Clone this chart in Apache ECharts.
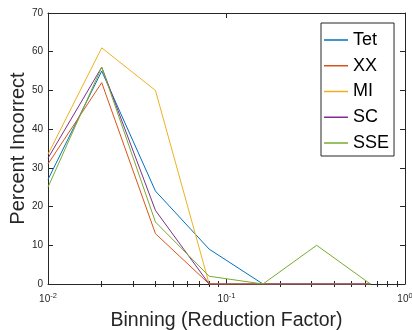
<!DOCTYPE html>
<html>
<head>
<meta charset="utf-8">
<script src="https://cdn.jsdelivr.net/npm/echarts@6/dist/echarts.min.js"></script>
<style>html,body{margin:0;padding:0;background:#fff;}#c{width:412px;height:330px;}</style>
</head>
<body>
<div id="c"></div>
<script>
const binning = [0.01, 0.02, 0.04, 0.08, 0.16, 0.32, 0.64];
const seriesNames = ['Tet', 'XX', 'MI', 'SC', 'SSE'];
const tet = [27, 55, 24, 9, 0, 0, 0];
const xx  = [31, 52, 13, 0, 0, 0, 0];
const mi  = [33.5, 61, 50, 0, 0, 0, 0];
const sc  = [32.5, 56, 19, 0, 0, 0, 0];
const sse = [25, 56, 16, 2, 0, 10, 0];
const yTicks = [0, 10, 20, 30, 40, 50, 60, 70];
const xMajorTicks = [0.01, 0.1, 1];
const xMinorTicks = [0.02,0.03,0.04,0.05,0.06,0.07,0.08,0.09,0.2,0.3,0.4,0.5,0.6,0.7,0.8,0.9];

const colors = ['#0072BD', '#D95319', '#EDB120', '#7E2F8E', '#77AC30'];
const allValues = [tet, xx, mi, sc, sse];
const axisColor = '#262626';
const font = 'Liberation Sans, Arial, Helvetica, sans-serif';
const minorLog = xMinorTicks.map(v => Math.log10(v));

const chart = echarts.init(document.getElementById('c'), null, {renderer: 'canvas'});

function minorAxis(pos) {
  return {
    type: 'value', position: pos, min: -2, max: 0,
    axisLine: {show: false},
    axisLabel: {show: false},
    splitLine: {show: false},
    axisTick: {show: true, inside: true, length: 3, customValues: minorLog, lineStyle: {color: axisColor, width: 1}}
  };
}

const option = {
  animation: false,
  backgroundColor: '#ffffff',
  color: colors,
  grid: {left: 48, right: 7, top: 13, bottom: 46, containLabel: false, outerBoundsMode: 'none'},
  legend: {
    orient: 'vertical', left: 321, top: 23,
    icon: 'rect', itemWidth: 24, itemHeight: 1.5, itemGap: 5.75,
    padding: [7, 5, 3, 3],
    borderColor: axisColor, borderWidth: 1, backgroundColor: '#ffffff',
    textStyle: {fontFamily: font, fontSize: 18, color: '#000000', lineHeight: 20},
    data: seriesNames
  },
  xAxis: [
    {
      type: 'log', logBase: 10, min: 0.01, max: 1, position: 'bottom',
      name: 'Binning (Reduction Factor)', nameLocation: 'middle', nameGap: 27,
      nameMoveOverlap: false,
      nameTextStyle: {fontFamily: font, fontSize: 19.5, color: axisColor},
      axisLine: {show: true, onZero: false, lineStyle: {color: axisColor, width: 1}},
      axisTick: {show: true, inside: true, length: 5, lineStyle: {color: axisColor}},
      splitLine: {show: false},
      axisLabel: {
        show: true, margin: 8, color: axisColor, fontFamily: font,
        formatter: function (v) {
          const e = Math.round(Math.log10(v));
          return '{b|10}{s|' + e + '}';
        },
        rich: {
          b: {fontSize: 10, fontFamily: font, color: axisColor},
          s: {fontSize: 7.5, fontFamily: font, color: axisColor, padding: [0, 0, 7, 0]}
        }
      }
    },
    minorAxis('bottom'),
    {
      type: 'log', logBase: 10, min: 0.01, max: 1, position: 'top',
      axisLine: {show: true, onZero: false, lineStyle: {color: axisColor, width: 1}},
      axisTick: {show: true, inside: true, length: 5, lineStyle: {color: axisColor}},
      axisLabel: {show: false}, splitLine: {show: false}
    },
    minorAxis('top')
  ],
  yAxis: [
    {
      type: 'value', min: 0, max: 70, interval: 10, position: 'left',
      name: 'Percent Incorrect', nameLocation: 'middle', nameGap: 20,
      nameMoveOverlap: false,
      nameTextStyle: {fontFamily: font, fontSize: 20, color: axisColor},
      axisLine: {show: true, onZero: false, lineStyle: {color: axisColor, width: 1}},
      axisTick: {show: true, inside: true, length: 5, lineStyle: {color: axisColor}},
      splitLine: {show: false},
      axisLabel: {show: true, margin: 5, fontSize: 10, fontFamily: font, color: axisColor,
        formatter: v => (yTicks.indexOf(v) >= 0 ? String(v) : '')}
    },
    {
      type: 'value', min: 0, max: 70, interval: 10, position: 'right',
      axisLine: {show: true, onZero: false, lineStyle: {color: axisColor, width: 1}},
      axisTick: {show: true, inside: true, length: 5, lineStyle: {color: axisColor}},
      axisLabel: {show: false}, splitLine: {show: false}
    }
  ],
  series: seriesNames.map((name, i) => ({
    name: name, type: 'line', xAxisIndex: 0, yAxisIndex: 0,
    symbol: 'none', showSymbol: false,
    lineStyle: {color: colors[i], width: 1},
    itemStyle: {color: colors[i]},
    data: binning.map((x, j) => [x, allValues[i][j]])
  }))
};
chart.setOption(option);
</script>
</body>
</html>
